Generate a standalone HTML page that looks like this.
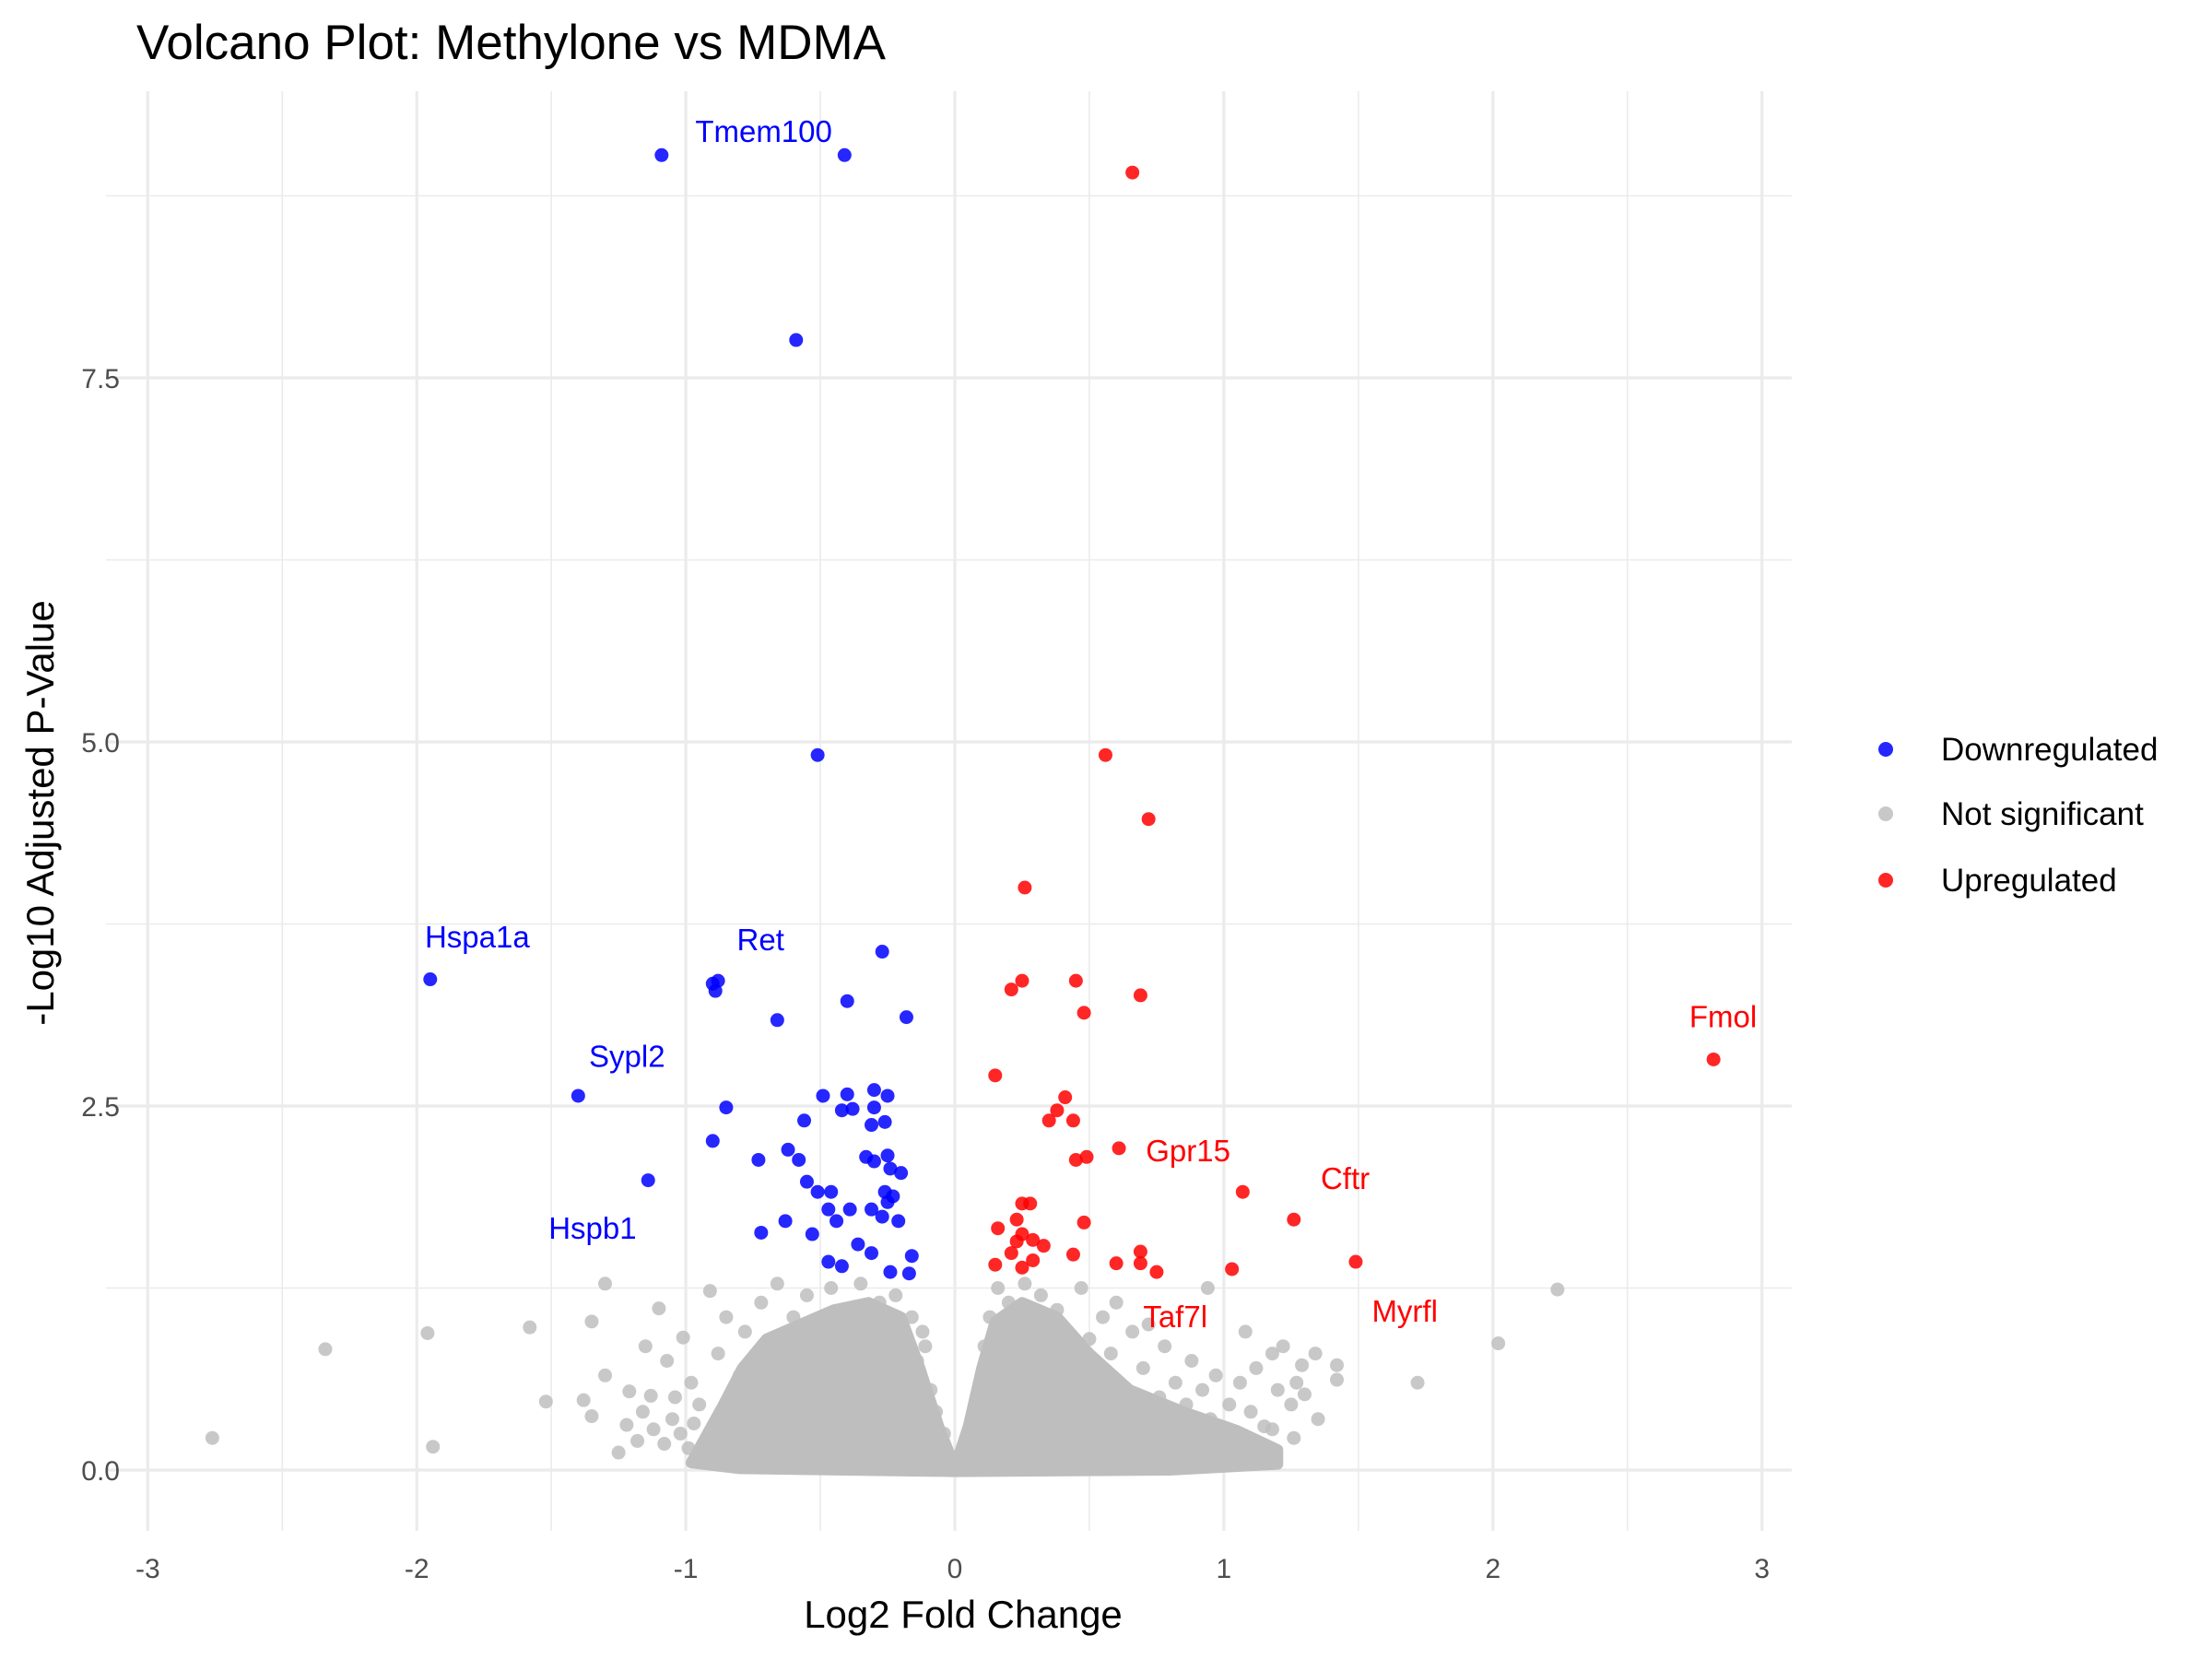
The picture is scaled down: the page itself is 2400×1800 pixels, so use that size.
<!DOCTYPE html>
<html><head><meta charset="utf-8"><style>
html,body{margin:0;padding:0;background:#fff}
svg{display:block}
text{font-family:"Liberation Sans",Arial,sans-serif}
</style></head><body>
<svg id="chart" width="2400" height="1800" viewBox="0 0 2400 1800" xmlns="http://www.w3.org/2000/svg">
<rect width="2400" height="1800" fill="#fff"/>
<g id="grid"></g><g id="core"></g><g id="grey"></g><g id="down"></g><g id="up"></g><g id="labels"></g><g id="ticks"></g>
<text x="148" y="64" font-size="53" fill="#000">Volcano Plot: Methylone vs MDMA</text>
<text x="1045" y="1766" font-size="42" text-anchor="middle" fill="#000">Log2 Fold Change</text>
<text x="0" y="0" font-size="42" text-anchor="middle" fill="#000" transform="translate(58,882) rotate(-90)">-Log10 Adjusted P-Value</text>
<g>
<g><circle cx="2046" cy="813" r="8" fill="#0000ff" opacity="0.85"/><text x="2106" y="825" font-size="35">Downregulated</text></g>
<g><circle cx="2046" cy="883" r="8" fill="#bebebe" opacity="0.85"/><text x="2106" y="895" font-size="35">Not significant</text></g>
<g><circle cx="2046" cy="955" r="8" fill="#ff0000" opacity="0.85"/><text x="2106" y="967" font-size="35">Upregulated</text></g>
</g>
</svg>
<script>
const xTicks=[-3,-2,-1,0,1,2,3];
const yTicks=[0,2.5,5,7.5];
const yTickLabels=["0.0","2.5","5.0","7.5"];
const downPts=[[-1.09,9.03],[-0.41,9.03],[-0.59,7.76],[-0.51,4.91],[-1.95,3.37],[-0.27,3.56],[-0.90,3.34],[-0.88,3.36],[-0.89,3.29],[-0.40,3.22],[-0.66,3.09],[-0.18,3.11],[-1.40,2.57],[-0.85,2.49],[-0.49,2.57],[-0.40,2.58],[-0.30,2.61],[-0.25,2.57],[-0.30,2.49],[-0.26,2.39],[-0.31,2.37],[-0.42,2.47],[-0.38,2.48],[-0.56,2.40],[-0.90,2.26],[-0.73,2.13],[-0.58,2.13],[-0.62,2.20],[-0.33,2.15],[-0.30,2.12],[-0.25,2.16],[-0.24,2.07],[-0.20,2.04],[-1.14,1.99],[-0.55,1.98],[-0.51,1.91],[-0.46,1.91],[-0.47,1.79],[-0.39,1.79],[-0.31,1.79],[-0.26,1.91],[-0.25,1.84],[-0.23,1.88],[-0.27,1.74],[-0.44,1.71],[-0.21,1.71],[-0.63,1.71],[-0.72,1.63],[-0.53,1.62],[-0.36,1.55],[-0.16,1.47],[-0.47,1.43],[-0.42,1.40],[-0.31,1.49],[-0.24,1.36],[-0.17,1.35]];
const upPts=[[0.66,8.91],[0.56,4.91],[0.72,4.47],[0.26,4.00],[0.25,3.36],[0.21,3.30],[0.45,3.36],[0.48,3.14],[0.69,3.26],[0.15,2.71],[0.41,2.56],[0.38,2.47],[0.35,2.40],[0.44,2.40],[0.45,2.13],[0.49,2.15],[0.61,2.21],[1.07,1.91],[1.26,1.72],[1.49,1.43],[2.82,2.82],[1.03,1.38],[0.25,1.83],[0.28,1.83],[0.48,1.70],[0.16,1.66],[0.23,1.72],[0.25,1.62],[0.29,1.58],[0.23,1.57],[0.33,1.54],[0.21,1.49],[0.44,1.48],[0.29,1.44],[0.15,1.41],[0.25,1.39],[0.69,1.50],[0.69,1.42],[0.60,1.42],[0.75,1.36]];
const greyPts=[[-2.76,0.22],[-2.34,0.83],[-1.96,0.94],[-1.94,0.16],[-1.58,0.98],[-1.52,0.47],[-1.35,1.02],[-1.30,1.28],[-1.38,0.48],[-1.35,0.37],[-1.30,0.65],[-1.22,0.31],[-1.21,0.54],[-1.15,0.85],[-1.10,1.11],[-1.13,0.51],[-1.07,0.75],[-1.01,0.91],[-0.93,0.06],[-0.91,1.23],[-1.05,0.35],[-0.98,0.60],[-0.95,0.45],[-1.18,0.20],[-1.12,0.28],[-1.08,0.18],[-1.02,0.25],[-0.99,0.15],[-1.25,0.12],[-1.16,0.40],[-1.04,0.50],[-0.97,0.32],[-0.88,0.80],[-0.85,1.05],[-0.82,0.30],[-0.80,0.65],[-0.78,0.95],[-0.75,0.15],[-0.72,1.15],[-0.70,0.50],[-0.68,0.85],[-0.66,1.28],[-0.64,0.25],[-0.62,0.70],[-0.60,1.05],[-0.58,0.40],[-0.56,0.90],[-0.55,1.20],[-0.53,0.15],[-0.51,0.60],[-0.50,1.00],[-0.48,0.30],[-0.47,0.80],[-0.46,1.25],[-0.44,0.50],[-0.43,0.95],[-0.42,0.10],[-0.40,0.70],[-0.39,1.10],[-0.38,0.35],[-0.36,0.85],[-0.35,1.28],[-0.34,0.55],[-0.33,0.20],[-0.31,1.00],[-0.30,0.65],[-0.29,0.40],[-0.28,1.15],[-0.27,0.80],[-0.26,0.10],[-0.25,0.55],[-0.24,0.95],[-0.23,0.30],[-0.22,1.20],[-0.21,0.70],[-0.20,0.45],[-0.19,0.90],[-0.18,0.20],[-0.17,0.60],[-0.16,1.05],[-0.15,0.35],[-0.14,0.75],[-0.13,0.15],[-0.12,0.50],[-0.11,0.85],[-0.10,0.28],[-0.09,0.55],[-0.08,0.12],[-0.07,0.40],[-0.06,0.20],[-0.05,0.08],[-0.04,0.25],[-0.03,0.04],[-0.12,0.95],[0.03,0.06],[0.05,0.15],[0.06,0.30],[0.08,0.45],[0.09,0.20],[0.10,0.60],[0.11,0.85],[0.12,0.35],[0.13,1.05],[0.14,0.70],[0.15,0.25],[0.16,1.25],[0.17,0.50],[0.18,0.90],[0.19,0.15],[0.20,1.15],[0.21,0.65],[0.22,0.40],[0.23,1.00],[0.24,0.20],[0.25,0.80],[0.26,1.28],[0.27,0.55],[0.28,0.30],[0.30,0.95],[0.31,0.70],[0.32,1.20],[0.33,0.15],[0.35,0.45],[0.36,0.85],[0.38,1.10],[0.39,0.30],[0.40,0.60],[0.42,0.95],[0.44,0.20],[0.45,0.75],[0.47,1.25],[0.48,0.40],[0.50,0.90],[0.52,0.15],[0.53,0.60],[0.55,1.05],[0.57,0.35],[0.58,0.80],[0.60,1.15],[0.62,0.25],[0.64,0.55],[0.66,0.95],[0.68,0.40],[0.70,0.70],[0.72,1.00],[0.74,0.20],[0.76,0.50],[0.78,0.85],[0.80,0.30],[0.82,0.60],[0.84,0.15],[0.86,0.45],[0.88,0.75],[0.90,0.25],[0.92,0.55],[0.95,0.35],[0.94,1.25],[0.97,0.65],[1.00,0.06],[1.02,0.45],[1.04,0.25],[1.06,0.60],[1.08,0.95],[1.10,0.40],[1.12,0.70],[1.15,0.30],[1.18,0.80],[1.20,0.55],[1.22,0.85],[1.25,0.45],[1.27,0.60],[1.29,0.72],[1.30,0.52],[1.34,0.80],[1.42,0.72],[1.42,0.62],[1.72,0.60],[2.02,0.87],[2.24,1.24],[0.55,0.45],[0.65,0.30],[1.12,0.18],[1.18,0.28],[1.26,0.22],[1.35,0.35]];
const coreHull=[[-0.98,0.05],[-0.92,0.25],[-0.86,0.45],[-0.79,0.7],[-0.7,0.9],[-0.55,1.02],[-0.45,1.1],[-0.32,1.15],[-0.2,1.05],[-0.13,0.7],[-0.06,0.3],[0,0.02],[0.05,0.3],[0.1,0.7],[0.15,1.02],[0.25,1.15],[0.38,1.05],[0.5,0.8],[0.65,0.55],[0.85,0.4],[1.05,0.27],[1.2,0.14],[1.2,0.04],[0.8,0.0],[0,-0.01],[-0.8,0.01]];
const geneNames=["Tmem100","Hspa1a","Ret","Sypl2","Hspb1","Fmol","Gpr15","Cftr","Myrfl","Taf7l"];
const geneX=[-0.965,-1.97,-0.81,-1.36,-1.51,2.73,0.71,1.36,1.55,0.70];
const geneY=[9.12,3.59,3.57,2.77,1.59,3.04,2.12,1.93,1.02,0.98];
const geneUp=[false,false,false,false,false,true,true,true,true,true];

const NS="http://www.w3.org/2000/svg";
const X=v=>1036+v*291.9, Y=v=>1595-v*158.0;
const PL=115,PR=1944,PT=99,PB=1661;
function mk(t,p,a){const e=document.createElementNS(NS,t);for(const k in a)e.setAttribute(k,a[k]);p.appendChild(e);return e;}
const g=document.getElementById('grid');
for(let v=-2.5;v<=3;v+=1){const l=mk('line',g,{x1:X(v),x2:X(v),y1:PT,y2:PB,stroke:'#ebebeb','stroke-width':1.6});}
[1.25,3.75,6.25,8.75].forEach(v=>{const l=mk('line',g,{x1:PL,x2:PR,y1:Y(v),y2:Y(v),stroke:'#ebebeb','stroke-width':1.6});});
xTicks.forEach(v=>{const l=mk('line',g,{x1:X(v),x2:X(v),y1:PT,y2:PB,stroke:'#ebebeb','stroke-width':3.2});});
yTicks.forEach(v=>{const l=mk('line',g,{x1:PL,x2:PR,y1:Y(v),y2:Y(v),stroke:'#ebebeb','stroke-width':3.2});});
const tk=document.getElementById('ticks');
xTicks.forEach(v=>{const t=mk('text',tk,{x:X(v),y:1712,'font-size':30,'text-anchor':'middle',fill:'#4d4d4d'});t.textContent=v;});
yTicks.forEach((v,i)=>{const t=mk('text',tk,{x:130,y:Y(v)+11,'font-size':30,'text-anchor':'end',fill:'#4d4d4d'});t.textContent=yTickLabels[i];});
const core=mk('polygon',document.getElementById('core'),{points:coreHull.map(p=>X(p[0])+','+Y(p[1])).join(' '),fill:'#bebebe',stroke:'#bebebe','stroke-width':12,'stroke-linejoin':'round'});


function pts(arr,id,col,name){const p=document.getElementById(id);arr.forEach(d=>{const c=mk('circle',p,{cx:X(d[0]),cy:Y(d[1]),r:7.5,fill:col,opacity:0.85});});}
pts(greyPts,'grey','#bebebe','point-not-significant');
pts(downPts,'down','#0000ff','point-downregulated');
pts(upPts,'up','#ff0000','point-upregulated');
const lb=document.getElementById('labels');
geneNames.forEach((n,i)=>{const t=mk('text',lb,{x:X(geneX[i]),y:Y(geneY[i]),'font-size':33,fill:geneUp[i]?'#ff0000':'#0000ff'});t.textContent=n;});
</script>
</body></html>
